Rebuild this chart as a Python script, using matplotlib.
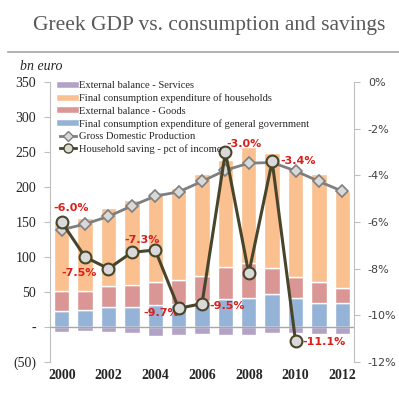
import matplotlib
matplotlib.use("Agg")
import matplotlib.pyplot as plt
from matplotlib.lines import Line2D
import numpy as np

years = [2000, 2001, 2002, 2003, 2004, 2005, 2006, 2007, 2008, 2009, 2010, 2011, 2012]
gov_consumption = [23, 24, 28, 29, 32, 33, 37, 40, 42, 47, 41, 35, 34]
ext_goods = [28, 28, 30, 31, 33, 34, 36, 46, 49, 37, 31, 30, 22]
hh_consumption = [99, 104, 112, 121, 128, 132, 145, 152, 166, 165, 151, 153, 138]
ext_services = [-7, -6, -7, -9, -13, -12, -10, -12, -12, -8, -9, -10, -10]
gdp = [139, 147, 158, 173, 187, 193, 208, 224, 234, 235, 223, 208, 194]
saving_years = [2000, 2001, 2002, 2003, 2004, 2005, 2006, 2007, 2008, 2009, 2010]
saving_pct = [-6.0, -7.5, -8.0, -7.3, -7.2, -9.7, -9.5, -3.0, -8.2, -3.4, -11.1]
labelled = {2000: "-6.0%", 2001: "-7.5%", 2003: "-7.3%", 2005: "-9.7%",
            2006: "-9.5%", 2007: "-3.0%", 2009: "-3.4%", 2010: "-11.1%"}
label_offsets = {2000: (6.5, 10), 2001: (-4.3, -11.5), 2003: (7, 8.6), 2005: (-12.6, -3.6),
                 2006: (18, -1.4), 2007: (13.7, 5.8), 2009: (18.7, 0), 2010: (20.5, -0.7)}
left_ticks = [350, 300, 250, 200, 150, 100, 50, 0, -50]
left_labels = ["350", "300", "250", "200", "150", "100", "50", "-", "(50)"]
right_ticks = [0, -2, -4, -6, -8, -10, -12]
right_labels = ["0%", "-2%", "-4%", "-6%", "-8%", "-10%", "-12%"]

c_gov = "#95B3D7"
c_goods = "#D99694"
c_hh = "#FAC090"
c_svc = "#B3A2C7"
c_gdp = "#7F7F7F"
c_sav = "#48452A"
c_lab = "#D8201C"
c_spine = "#BFBFBF"
serif = "Liberation Serif"

fig = plt.figure(figsize=(3.99, 4.0), dpi=100)
ax = fig.add_axes([50/399, 38/400, 304/399, 280/400])
ax2 = ax.twinx()

x = np.array(years)
gov = np.array(gov_consumption)
goods = np.array(ext_goods)
hh = np.array(hh_consumption)
w = 0.66
kw = dict(width=w, edgecolor="white", linewidth=1.0)
ax.bar(x, gov, color=c_gov, **kw, zorder=2)
ax.bar(x, goods, bottom=gov, color=c_goods, **kw, zorder=2)
ax.bar(x, hh, bottom=gov + goods, color=c_hh, **kw, zorder=2)
ax.bar(x, ext_services, color=c_svc, **kw, zorder=2)
ax.axhline(0, color="#A6A6A6", lw=1, zorder=3)
ax.plot(x, gdp, color=c_gdp, lw=2, marker="D", ms=6, mfc="#D9D9D9",
        mec=c_gdp, mew=1.2, zorder=4)

ax2.plot(saving_years, saving_pct, color=c_sav, lw=2.2, marker="o", ms=8.5,
         mfc="#D9D9D9", mec=c_sav, mew=1.5, zorder=5)
for yr, v in zip(saving_years, saving_pct):
    if yr in labelled:
        dx, dy = label_offsets[yr]
        ax2.annotate(labelled[yr], (yr, v), xytext=(dx, dy), textcoords="offset points",
                     ha="center", va="center", color=c_lab, fontsize=8,
                     fontweight="bold", family="DejaVu Sans")

ax.set_xlim(1999.5, 2012.5)
ax.set_ylim(-50, 350)
ax2.set_ylim(-12, 0)
ax.set_yticks(left_ticks)
ax.set_yticklabels(left_labels, family=serif, fontsize=10, color="#262626")
ax2.set_yticks(right_ticks)
ax2.set_yticklabels(right_labels, family="DejaVu Sans", fontsize=8, color="#404040")
ax.set_xticks(years[::2])
ax.set_xticklabels([str(y) for y in years[::2]], family=serif, fontsize=10,
                   fontweight="bold", color="#262626")
for a in (ax, ax2):
    for s in ["top", "bottom"]:
        a.spines[s].set_visible(False)
    a.spines["left"].set_color(c_spine)
    a.spines["right"].set_color(c_spine)
ax.spines["right"].set_visible(False)
ax2.spines["left"].set_visible(False)
ax.tick_params(axis="y", colors=c_spine, labelcolor="#262626", length=4, pad=6)
ax2.tick_params(axis="y", colors=c_spine, labelcolor="#404040", length=4, pad=6)
ax.tick_params(axis="x", length=0, pad=5)

handles = [
    Line2D([], [], color=c_svc, lw=4),
    Line2D([], [], color=c_hh, lw=4),
    Line2D([], [], color=c_goods, lw=4),
    Line2D([], [], color=c_gov, lw=4),
    Line2D([], [], color=c_gdp, lw=2, marker="D", ms=5, mfc="#D9D9D9", mec=c_gdp),
    Line2D([], [], color=c_sav, lw=2, marker="o", ms=6.5, mfc="#D9D9D9", mec=c_sav),
]
names = ["External balance - Services", "Final consumption expenditure of households",
         "External balance - Goods", "Final consumption expenditure of general government",
         "Gross Domestic Production", "Household saving - pct of income"]
leg = ax2.legend(handles, names, loc="upper left", bbox_to_anchor=(0.01, 1.03),
                 frameon=False, prop={"family": serif, "size": 7.6},
                 handlelength=1.5, handletextpad=0.3, labelspacing=0.3,
                 borderaxespad=0.3)
for t in leg.get_texts():
    t.set_color("#262626")

fig.text(0.525, 1 - 30/400, "Greek GDP vs. consumption and savings", ha="center",
         va="baseline", family=serif, fontsize=15.5, color="#595959")
fig.add_artist(Line2D([8/399, 1.0], [1 - 52/400, 1 - 52/400], color="#A6A6A6", lw=1.2))
fig.text(20/399, 1 - 66/400, "bn euro", ha="left", va="center", family=serif,
         style="italic", fontsize=10, color="#262626")

fig.savefig("out.png", dpi=100)
